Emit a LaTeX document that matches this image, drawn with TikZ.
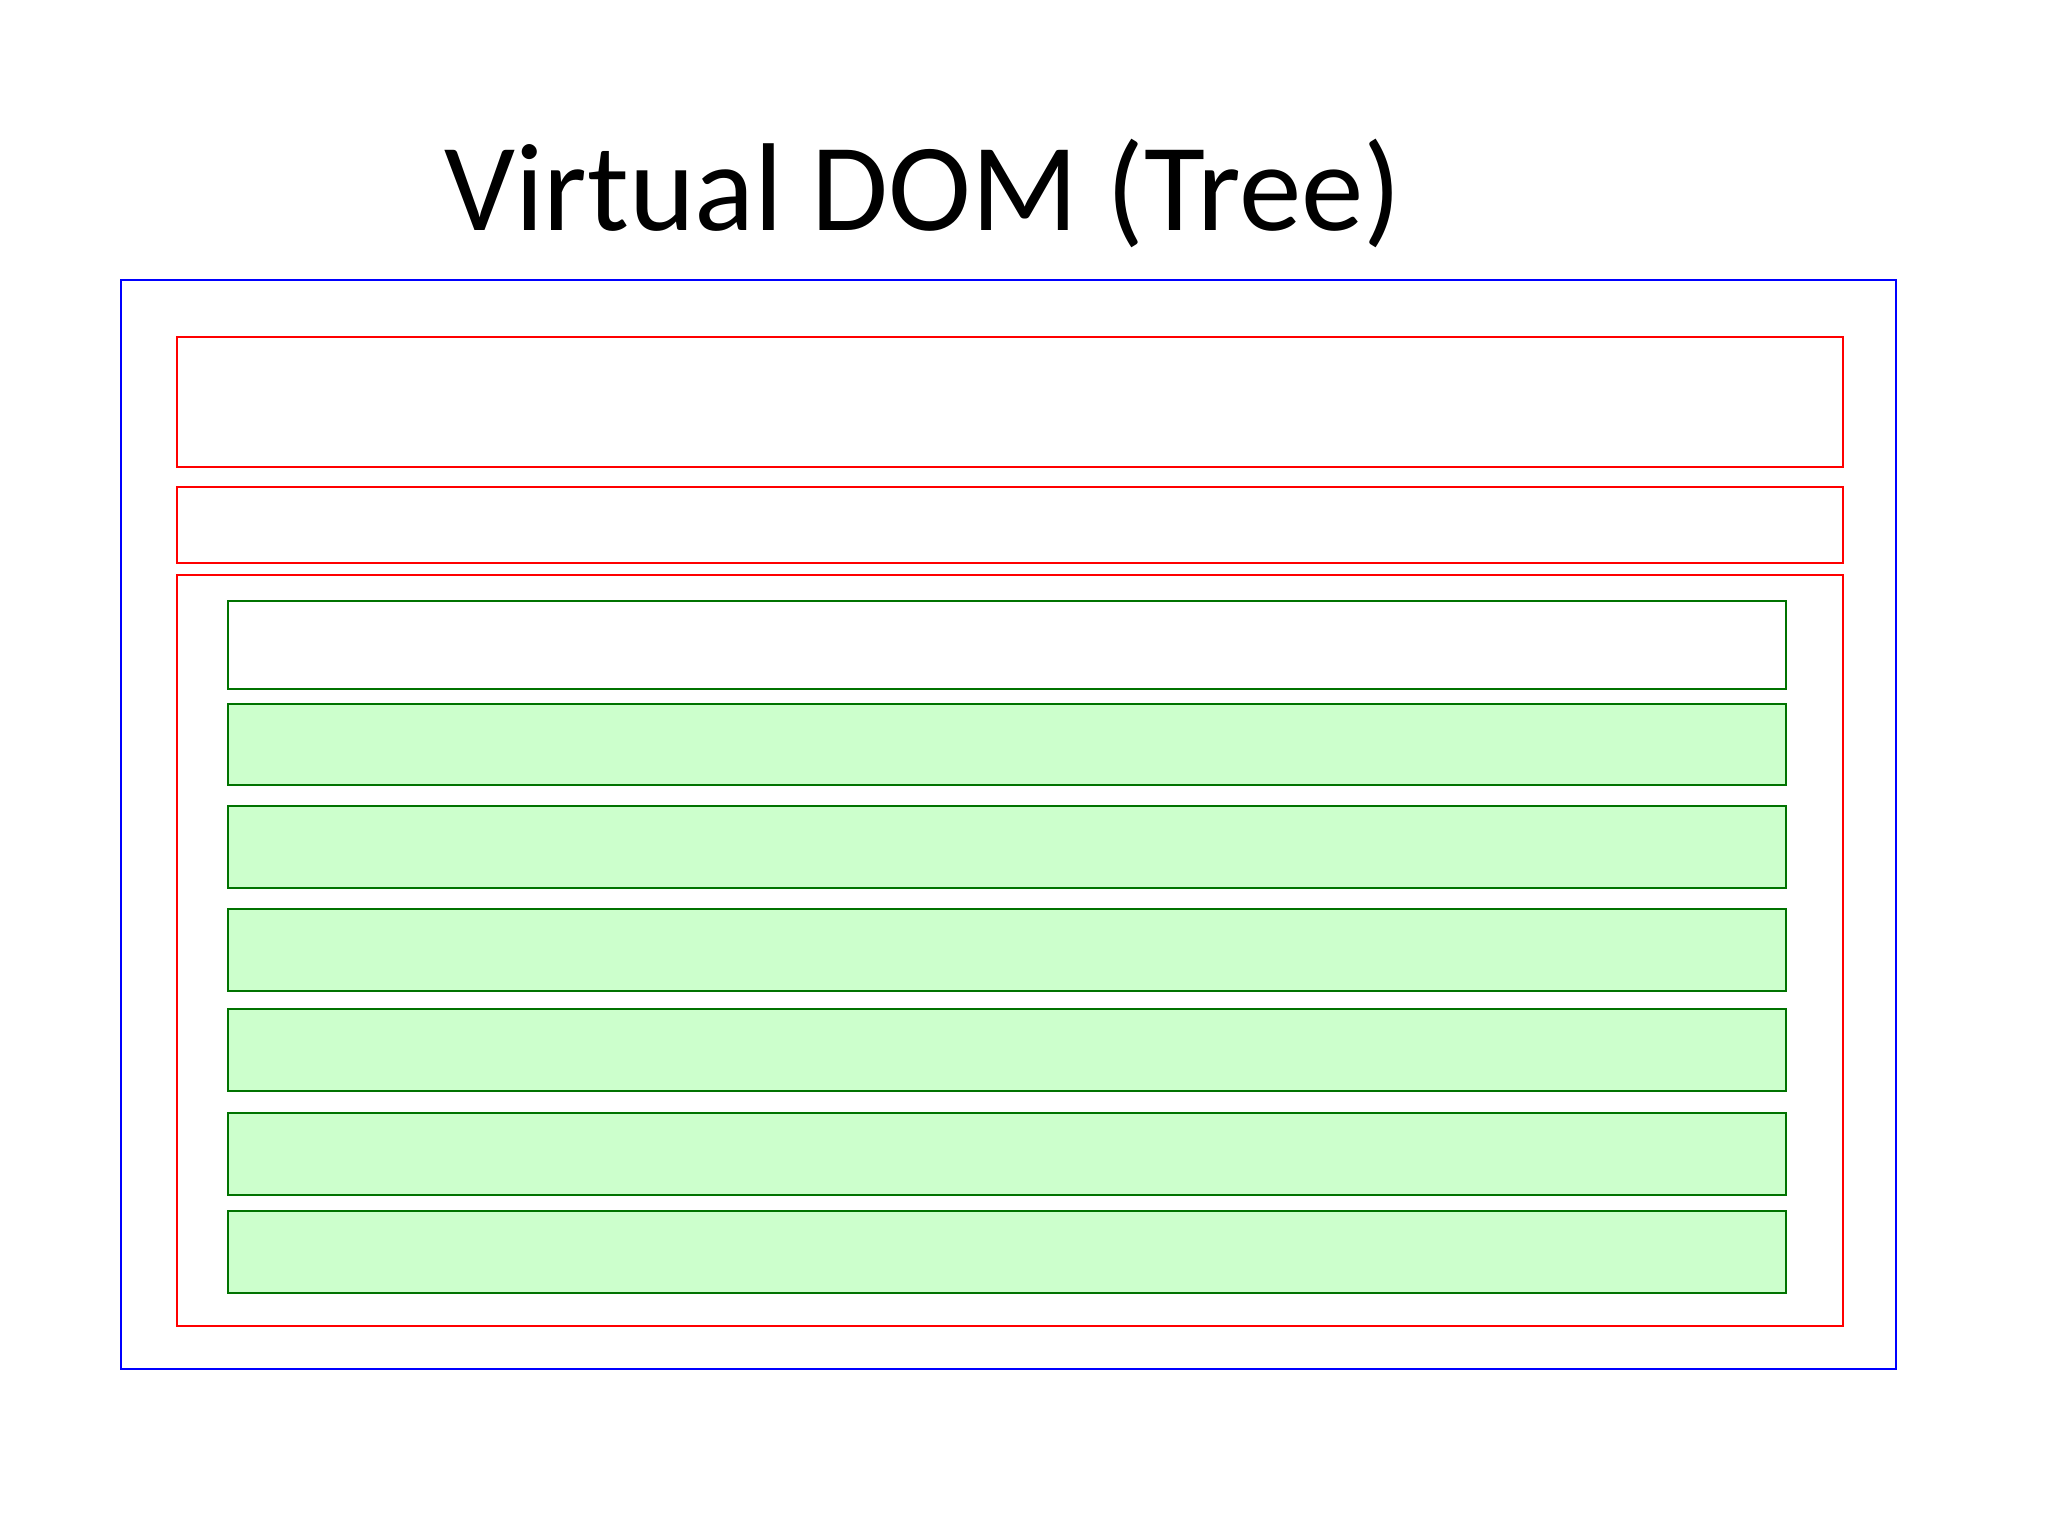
\documentclass[tikz,border=0pt]{standalone}
\usepackage{fontspec}
\setmainfont{Carlito}
\begin{document}
\begin{tikzpicture}[x=1pt,y=-1pt,
  outerbox/.style={draw=blue, line width=2.5pt},
  redbox/.style={draw=red, line width=2.5pt, fill=white},
  greenbox/.style={draw=green!45!black, line width=2.5pt, fill=lightgreen},
  whitegreen/.style={draw=green!45!black, line width=2.5pt, fill=white}]
\definecolor{lightgreen}{HTML}{CCFFCC}
\useasboundingbox[fill=white] (0,0) rectangle (2048,1536);
\node[inner sep=0pt, anchor=base, font=\fontsize{125}{150}\selectfont] (title) at (923,230) {Virtual DOM (Tree)};
\draw[outerbox] (121,280) rectangle (1896,1369);
\draw[redbox] (177,337) rectangle (1843,467);
\draw[redbox] (177,487) rectangle (1843,563);
\draw[redbox] (177,575) rectangle (1843,1326);
\draw[whitegreen] (228,601) rectangle (1786,689);
\draw[greenbox] (228,704) rectangle (1786,785);
\draw[greenbox] (228,806) rectangle (1786,888);
\draw[greenbox] (228,909) rectangle (1786,991);
\draw[greenbox] (228,1009) rectangle (1786,1091);
\draw[greenbox] (228,1113) rectangle (1786,1195);
\draw[greenbox] (228,1211) rectangle (1786,1293);
\end{tikzpicture}
\end{document}
